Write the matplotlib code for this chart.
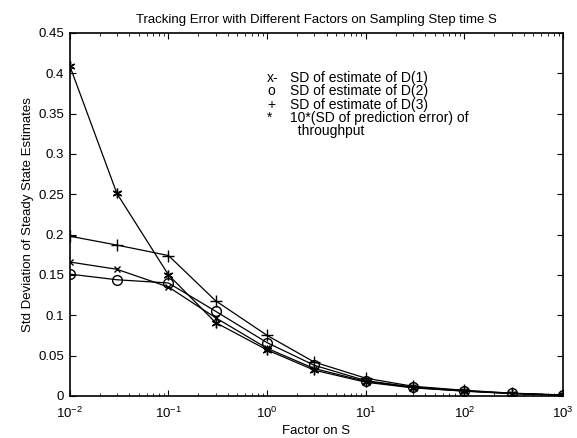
import numpy as np
import matplotlib
matplotlib.use("Agg")
import matplotlib.pyplot as plt

plt.rcParams['font.family'] = ['Liberation Sans', 'DejaVu Sans']
plt.rcParams['font.size'] = 9.5
plt.rcParams['mathtext.fontset'] = 'custom'
plt.rcParams['mathtext.rm'] = 'Liberation Sans'
plt.rcParams['mathtext.it'] = 'Liberation Sans'
plt.rcParams['mathtext.default'] = 'regular'
plt.rcParams['axes.unicode_minus'] = False

factor = [0.01, 0.03, 0.1, 0.3, 1, 3, 10, 30, 100, 300, 1000]
sd_d1 = [0.166, 0.157, 0.135, 0.097, 0.059, 0.034, 0.018, 0.0105, 0.006, 0.003, 0.001]
sd_d2 = [0.151, 0.144, 0.140, 0.105, 0.066, 0.038, 0.019, 0.011, 0.0065, 0.0032, 0.001]
sd_d3 = [0.198, 0.187, 0.174, 0.118, 0.075, 0.042, 0.022, 0.012, 0.007, 0.0035, 0.0012]
sd_pred = [0.409, 0.251, 0.150, 0.091, 0.057, 0.032, 0.017, 0.010, 0.006, 0.003, 0.001]

legend_keys = ['x-', 'o', '+', '*', '']
legend_text = ['SD of estimate of D(1)', 'SD of estimate of D(2)',
               'SD of estimate of D(3)', '10*(SD of prediction error) of',
               '  throughput']

fig = plt.figure(figsize=(5.77, 4.38), dpi=100)
ax = fig.add_axes([0.121, 0.096, 0.855, 0.829])

kw = dict(color='black', lw=0.9, mfc='none', mec='black')
ax.plot(factor, sd_d1, marker='x', ms=4, **kw)
ax.plot(factor, sd_d2, marker='o', ms=7, **kw)
ax.plot(factor, sd_d3, marker='+', ms=9, **kw)
ax.plot(factor, sd_pred, marker=(6, 2, 0), ms=7, **kw)

ax.set_xscale('log')
ax.set_xlim(0.01, 1000)
ax.set_ylim(0, 0.45)
ax.set_yticks(np.arange(0, 0.451, 0.05))
ax.set_yticklabels(['0', '0.05', '0.1', '0.15', '0.2', '0.25', '0.3', '0.35', '0.4', '0.45'])
ax.tick_params(which='both', direction='in', top=True, right=True)
ax.tick_params(which='major', length=4, pad=4)
ax.tick_params(axis='x', which='major', pad=7)
ax.tick_params(which='minor', length=2)
for s in ax.spines.values():
    s.set_linewidth(1.2)

ax.set_title('Tracking Error with Different Factors on Sampling Step time S', fontsize=9.5, pad=7)
ax.set_xlabel('Factor on S', labelpad=3)
ax.set_ylabel('Std Deviation of Steady State Estimates', labelpad=3)

for i, (k, t) in enumerate(zip(legend_keys, legend_text)):
    y = 78 + i * 13.3
    fig.text(267 / 577, 1 - y / 438, k, va='center', ha='left', fontsize=10)
    fig.text(290 / 577, 1 - y / 438, t, va='center', ha='left', fontsize=10)

fig.savefig('out.png', dpi=100)
